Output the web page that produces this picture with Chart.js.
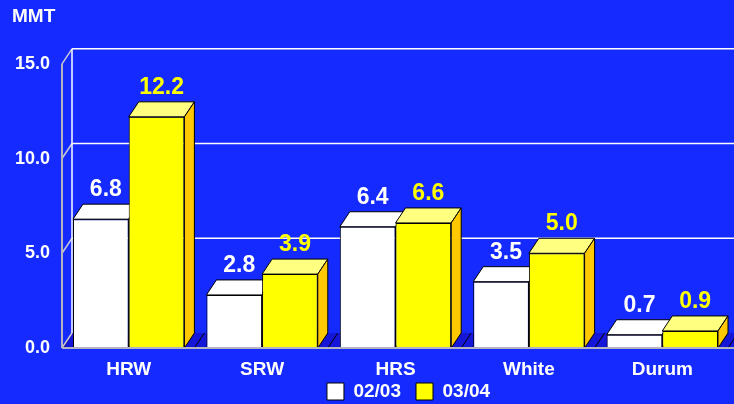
<!DOCTYPE html>
<html>
<head>
<meta charset="utf-8">
<script src="https://cdn.jsdelivr.net/npm/chart.js@4"></script>
<style>
  html, body { margin: 0; padding: 0; background: #142aff; }
  #wrap { width: 734px; height: 404px; }
</style>
</head>
<body>
<div id="wrap"><canvas id="wheatChart"></canvas></div>
<script>
// 數據
const categories = ['HRW', 'SRW', 'HRS', 'White', 'Durum'];
const seriesNames = ['02/03', '03/04'];
const values0203 = [6.8, 2.8, 6.4, 3.5, 0.7];
const values0304 = [12.2, 3.9, 6.6, 5.0, 0.9];
const yTicks = [0, 5, 10, 15];

const BG = '#142aff';
const DX = 10, DY = 15; // 立體深度
const FONT = 'Liberation Sans, Arial, sans-serif';

// 立體效果 + 背景牆
const threeD = {
    id: 'threeD',
    afterLayout(chart) {
        // 圖例往右移, 跟原圖一樣
        const lg = chart.legend;
        lg.left += 38; lg.right += 38;
        lg.top -= 11; lg.bottom -= 11;
    },
    beforeDraw(chart) {
        const ctx = chart.ctx;
        ctx.save();
        ctx.fillStyle = BG;
        ctx.fillRect(0, 0, chart.width, chart.height);
        ctx.restore();
    },
    beforeDatasetsDraw(chart) {
        const ctx = chart.ctx;
        const a = chart.chartArea;
        const y = chart.scales.y;
        ctx.save();
        // 地板
        ctx.fillStyle = '#1616d8';
        ctx.beginPath();
        ctx.moveTo(a.left, a.bottom);
        ctx.lineTo(a.left + DX, a.bottom - DY);
        ctx.lineTo(chart.width + DX, a.bottom - DY);
        ctx.lineTo(chart.width, a.bottom);
        ctx.closePath();
        ctx.fill();
        ctx.strokeStyle = '#000';
        ctx.lineWidth = 1;
        ctx.beginPath();
        ctx.moveTo(a.left + 1, a.bottom);
        ctx.lineTo(a.left + DX, a.bottom - DY);
        ctx.stroke();
        // 背景網格線
        ctx.lineWidth = 1.5;
        yTicks.forEach(v => {
            const py = y.getPixelForValue(v);
            if (v > 0) {
                ctx.strokeStyle = '#ffffff';
                ctx.beginPath();
                ctx.moveTo(a.left + DX, py - DY);
                ctx.lineTo(chart.width, py - DY);
                ctx.stroke();
            }
            ctx.strokeStyle = '#c8c8d8';
            ctx.beginPath();
            ctx.moveTo(a.left, py);
            ctx.lineTo(a.left + DX, py - DY);
            ctx.stroke();
        });
        // 左牆
        const top = y.getPixelForValue(15);
        ctx.strokeStyle = '#ffffff';
        ctx.beginPath();
        ctx.moveTo(a.left + DX, top - DY);
        ctx.lineTo(a.left + DX, a.bottom - DY);
        ctx.stroke();
        ctx.strokeStyle = '#b4b4c0';
        ctx.lineWidth = 2;
        ctx.beginPath();
        ctx.moveTo(a.left, top);
        ctx.lineTo(a.left, a.bottom);
        ctx.stroke();
        ctx.restore();
    },
    beforeDatasetDraw(chart, args) {
        // 白色柱子的頂面和側面要在黃色柱子前面之前畫
        if (args.index === 1) drawFaces(chart, 0, '#ffffff', '#d8d8d8');
    },
    afterDatasetsDraw(chart) {
        const ctx = chart.ctx;
        const a = chart.chartArea;
        drawFaces(chart, 1, '#ffff80', '#ffc800');
        ctx.save();
        // 底部軸線
        ctx.strokeStyle = '#b4b4c0';
        ctx.lineWidth = 2;
        ctx.beginPath();
        ctx.moveTo(a.left, a.bottom);
        ctx.lineTo(chart.width, a.bottom);
        ctx.stroke();
        // 數值標籤
        ctx.font = 'bold 23px ' + FONT;
        ctx.textAlign = 'center';
        ctx.textBaseline = 'alphabetic';
        const colors = ['#ffffff', '#ffff00'];
        chart.data.datasets.forEach((ds, i) => {
            chart.getDatasetMeta(i).data.forEach((bar, j) => {
                ctx.fillStyle = colors[i];
                ctx.fillText(ds.data[j].toFixed(1), bar.x + DX / 2, bar.y - DY - 8);
            });
        });
        ctx.restore();
    }
};

function drawFaces(chart, index, topColor, sideColor) {
    const ctx = chart.ctx;
    ctx.save();
    ctx.strokeStyle = '#000';
    ctx.lineWidth = 1;
    chart.getDatasetMeta(index).data.forEach(bar => {
        const l = bar.x - bar.width / 2, r = bar.x + bar.width / 2;
        const t = bar.y, b = bar.base;
        // 頂面
        ctx.fillStyle = topColor;
        ctx.beginPath();
        ctx.moveTo(l, t);
        ctx.lineTo(l + DX, t - DY);
        ctx.lineTo(r + DX, t - DY);
        ctx.lineTo(r, t);
        ctx.closePath();
        ctx.fill();
        ctx.stroke();
        // 側面
        ctx.fillStyle = sideColor;
        ctx.beginPath();
        ctx.moveTo(r, t);
        ctx.lineTo(r + DX, t - DY);
        ctx.lineTo(r + DX, b - DY);
        ctx.lineTo(r, b);
        ctx.closePath();
        ctx.fill();
        ctx.stroke();
        // 地板陰影線
        ctx.beginPath();
        ctx.moveTo(r + DX, b);
        ctx.lineTo(r + 2 * DX, b - DY);
        ctx.stroke();
    });
    ctx.restore();
}

const ctx = document.getElementById('wheatChart').getContext('2d');
const myChart = new Chart(ctx, {
    type: 'bar',
    data: {
        labels: categories,
        datasets: [{
            label: seriesNames[0],
            data: values0203,
            backgroundColor: '#ffffff',
            borderColor: '#000000',
            borderWidth: 1,
            borderSkipped: false
        }, {
            label: seriesNames[1],
            data: values0304,
            backgroundColor: '#ffff00',
            borderColor: '#000000',
            borderWidth: 1,
            borderSkipped: false
        }]
    },
    options: {
        responsive: true,
        maintainAspectRatio: false,
        animation: false,
        categoryPercentage: 0.835,
        barPercentage: 1,
        layout: { padding: { left: 12, right: 5, top: 0, bottom: -18 } },
        plugins: {
            title: {
                display: true,
                text: 'MMT',
                align: 'start',
                color: '#ffffff',
                font: { family: FONT, size: 19, weight: 'bold' },
                padding: { top: 5, bottom: 36 }
            },
            legend: {
                position: 'bottom',
                labels: {
                    color: '#ffffff',
                    boxWidth: 17,
                    boxHeight: 17,
                    padding: 15,
                    font: { family: FONT, size: 19, weight: 'bold', lineHeight: 18 / 19 }
                }
            },
            tooltip: { enabled: false }
        },
        scales: {
            x: {
                grid: { display: false, drawTicks: false },
                border: { display: false },
                ticks: {
                    color: '#ffffff',
                    padding: 10,
                    font: { family: FONT, size: 19, weight: 'bold' }
                },
                afterFit: s => { s.height = 30; }
            },
            y: {
                min: 0,
                max: 15,
                grid: { display: false, drawTicks: false },
                border: { display: false },
                ticks: {
                    stepSize: 5,
                    color: '#ffffff',
                    padding: 12,
                    font: { family: FONT, size: 18, weight: 'bold' },
                    callback: v => v.toFixed(1)
                },
                afterFit: s => { s.width = 50; }
            }
        }
    },
    plugins: [threeD]
});
</script>
</body>
</html>
